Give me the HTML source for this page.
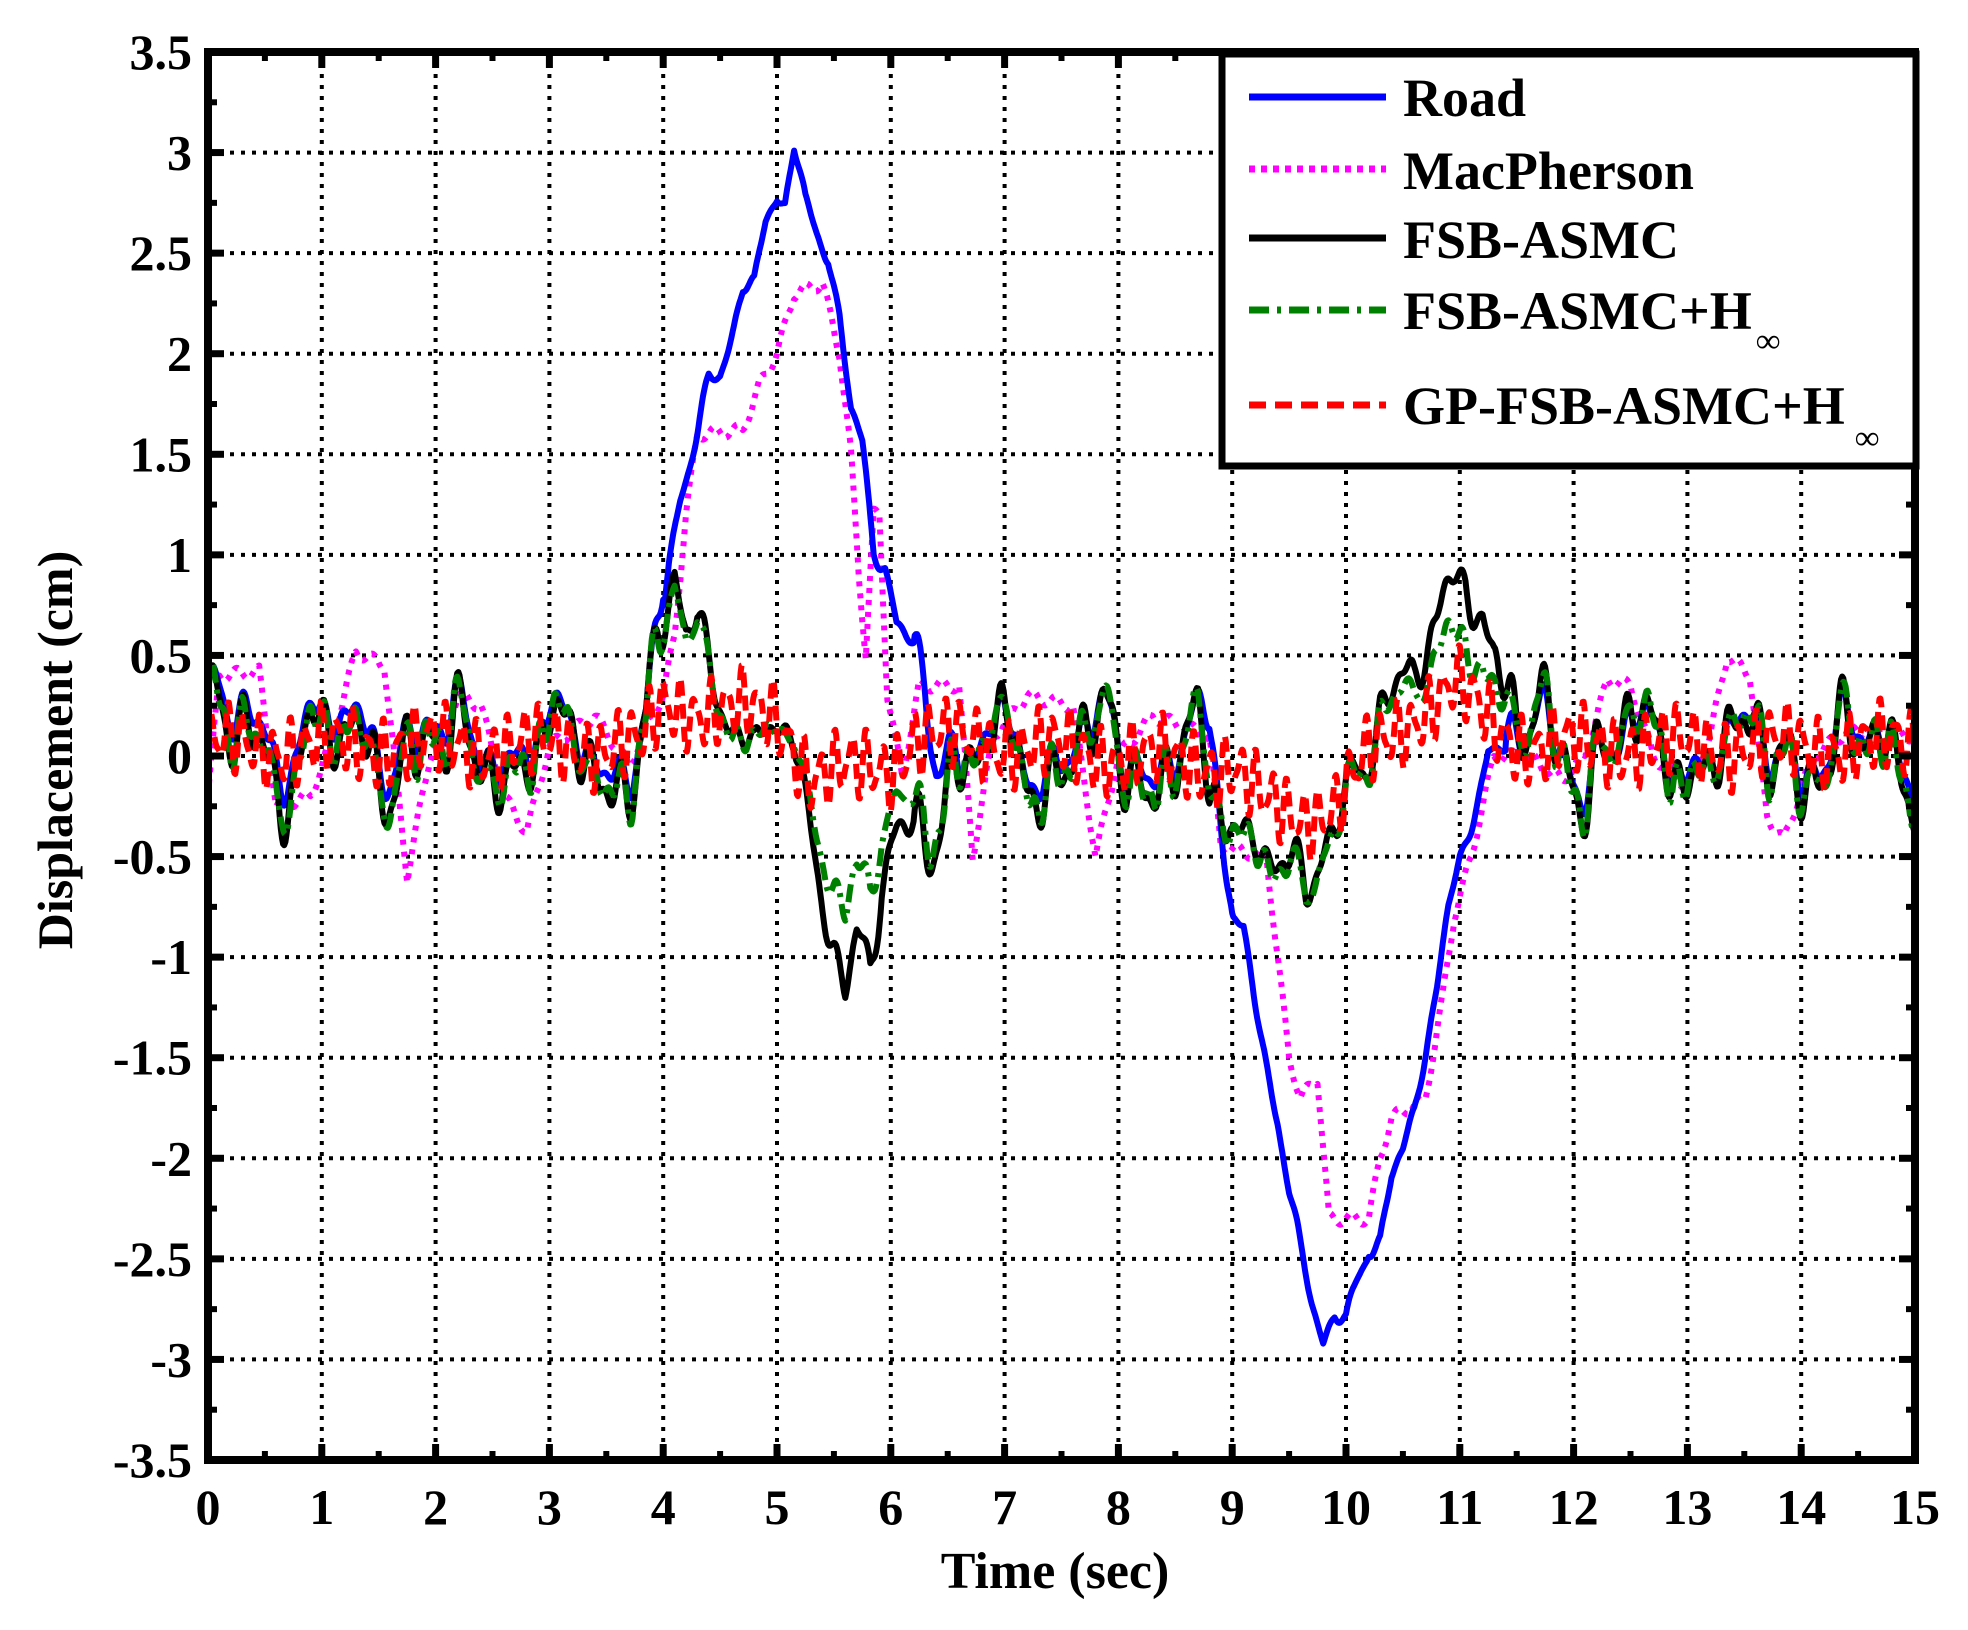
<!DOCTYPE html>
<html><head><meta charset="utf-8">
<style>
html,body{margin:0;padding:0;background:#fff;}
svg{display:block;}
text{font-family:"Liberation Serif",serif;font-weight:bold;fill:#000;}
</style></head>
<body>
<svg id="s" width="1968" height="1630" viewBox="0 0 1968 1630" xmlns="http://www.w3.org/2000/svg">
<g id="grid" stroke="#000" stroke-width="4" stroke-dasharray="4 7" fill="none"></g>
<g id="series" fill="none" stroke-linejoin="round"></g>
<g id="axes"></g>
<g id="legend">
<rect x="1222" y="54" width="694" height="412" fill="#fff" stroke="#000" stroke-width="7"/>
<line x1="1249" y1="97" x2="1386" y2="97" stroke="#0000ff" stroke-width="7"/>
<line x1="1249" y1="169" x2="1386" y2="169" stroke="#ff00ff" stroke-width="7" stroke-dasharray="6 6"/>
<line x1="1249" y1="238" x2="1386" y2="238" stroke="#000" stroke-width="7"/>
<line x1="1249" y1="310" x2="1386" y2="310" stroke="#008000" stroke-width="7" stroke-dasharray="20 8 4 8"/>
<line x1="1249" y1="405" x2="1386" y2="405" stroke="#ff0000" stroke-width="7" stroke-dasharray="17 9"/>
<text x="1403" y="116" font-size="54">Road</text>
<text x="1403" y="189" font-size="54">MacPherson</text>
<text x="1403" y="258" font-size="54">FSB-ASMC</text>
<text x="1403" y="329" font-size="54">FSB-ASMC+H</text>
<text x="1756" y="352" font-size="34">∞</text>
<text x="1403" y="424" font-size="54">GP-FSB-ASMC+H</text>
<text x="1855" y="449" font-size="34">∞</text>
</g>
<text x="1055" y="1588" font-size="52" text-anchor="middle">Time (sec)</text>
<text transform="translate(72,750) rotate(-90)" font-size="50" text-anchor="middle">Displacement (cm)</text>
</svg>
<script>
const X0=208,X1=1915,Y0=52,Y1=1460;
const px=t=>X0+(X1-X0)*t/15, py=v=>Y0+(Y1-Y0)*(3.5-v)/7;
const NS="http://www.w3.org/2000/svg";
function el(p,tag,a){const e=document.createElementNS(NS,tag);for(const k in a)e.setAttribute(k,a[k]);p.appendChild(e);return e;}
const grid=document.getElementById('grid'),axes=document.getElementById('axes'),ser=document.getElementById('series');
for(let i=1;i<15;i++)el(grid,'line',{x1:px(i),y1:Y0,x2:px(i),y2:Y1});
for(let v=-3;v<=3;v+=0.5)el(grid,'line',{x1:X0,y1:py(v),x2:X1,y2:py(v)});
el(axes,'rect',{x:X0,y:Y0,width:X1-X0,height:Y1-Y0,fill:'none',stroke:'#000','stroke-width':8});
for(let i=0;i<=15;i++){
 el(axes,'line',{x1:px(i),y1:Y1,x2:px(i),y2:Y1-16,stroke:'#000','stroke-width':7});
 el(axes,'line',{x1:px(i),y1:Y0,x2:px(i),y2:Y0+16,stroke:'#000','stroke-width':7});
 if(i<15){el(axes,'line',{x1:px(i+.5),y1:Y1,x2:px(i+.5),y2:Y1-9,stroke:'#000','stroke-width':6});
 el(axes,'line',{x1:px(i+.5),y1:Y0,x2:px(i+.5),y2:Y0+9,stroke:'#000','stroke-width':6});}
 const t=el(axes,'text',{x:px(i),y:1524,'font-size':50,'text-anchor':'middle'});t.textContent=i;
}
for(let k=-7;k<=7;k++){const v=k/2;
 el(axes,'line',{x1:X0,y1:py(v),x2:X0+16,y2:py(v),stroke:'#000','stroke-width':7});
 el(axes,'line',{x1:X1,y1:py(v),x2:X1-16,y2:py(v),stroke:'#000','stroke-width':7});
 if(k<7){el(axes,'line',{x1:X0,y1:py(v+.25),x2:X0+9,y2:py(v+.25),stroke:'#000','stroke-width':6});
 el(axes,'line',{x1:X1,y1:py(v+.25),x2:X1-9,y2:py(v+.25),stroke:'#000','stroke-width':6});}
 const t=el(axes,'text',{x:192,y:py(v)+17,'font-size':50,'text-anchor':'end'});t.textContent=String(v);
}
function interp(k,t){if(t<=k[0][0])return k[0][1];for(let i=1;i<k.length;i++)if(t<=k[i][0]){const a=k[i-1],b=k[i];return a[1]+(b[1]-a[1])*(t-a[0])/(b[0]-a[0]);}return k[k.length-1][1];}
const n1=t=>0.17*Math.sin(2*Math.PI*1.05*t+0.3)+0.1*Math.sin(2*Math.PI*2.3*t+1.2)+0.05*Math.sin(2*Math.PI*3.7*t);
const n2=t=>0.1*Math.sin(2*Math.PI*4.2*t)+0.07*Math.sin(2*Math.PI*6.9*t+1)+0.05*Math.sin(2*Math.PI*2.1*t+2)+0.04*Math.sin(2*Math.PI*1.3*t+.5);
function env(t,ranges){for(const r of ranges)if(t>r[0]&&t<r[1])return r[2];return 1;}
function path(f,dt){let d='';for(let t=0;t<=15.0001;t+=dt){d+=(d?'L':'M')+px(t).toFixed(1)+' '+py(f(t)).toFixed(1);}return d;}
const road=[[0,0.1],[3.85,0],[3.95,0.45],[4.05,0.9],[4.15,1.25],[4.3,1.6],[4.4,1.9],[4.5,1.95],[4.62,2.15],[4.7,2.3],[4.8,2.3],[4.9,2.6],[5.0,2.75],[5.07,2.72],[5.15,3.0],[5.25,2.75],[5.35,2.63],[5.45,2.52],[5.55,2.2],[5.65,1.7],[5.75,1.5],[5.85,1.0],[5.95,0.9],[6.05,0.6],[6.2,0.55],[6.3,0.45],[6.4,0.12],[6.6,-0.1],[6.9,0],[8.8,0],[8.9,-0.4],[9.0,-0.8],[9.1,-0.85],[9.2,-1.2],[9.3,-1.5],[9.4,-1.8],[9.5,-2.2],[9.6,-2.5],[9.7,-2.75],[9.8,-2.95],[9.9,-2.8],[10.0,-2.82],[10.1,-2.6],[10.2,-2.4],[10.3,-2.38],[10.4,-2.1],[10.5,-2.0],[10.6,-1.8],[10.7,-1.5],[10.8,-1.2],[10.9,-0.8],[11.0,-0.5],[11.1,-0.3],[11.25,0.05],[11.4,0],[15,0]];
const mac=[[0,-0.2],[0.1,0.4],[0.45,0.42],[0.6,-0.25],[0.9,-0.2],[1.1,0.1],[1.3,0.52],[1.55,0.45],[1.75,-0.6],[1.95,0.0],[2.2,0.3],[2.4,0.25],[2.6,-0.2],[2.8,-0.38],[3.0,0.05],[3.4,0.2],[3.7,-0.05],[3.9,0.2],[4.0,0.3],[4.1,0.6],[4.2,1.2],[4.3,1.6],[4.7,1.62],[4.85,1.85],[5.0,2.0],[5.15,2.3],[5.4,2.35],[5.55,2.0],[5.65,1.5],[5.72,0.9],[5.78,0.5],[5.85,1.2],[5.9,1.2],[5.97,0.3],[6.1,-0.1],[6.25,0.35],[6.6,0.35],[6.72,-0.5],[6.9,0.1],[7.2,0.3],[7.6,0.25],[7.8,-0.5],[8.0,0.0],[8.3,0.2],[8.8,0.1],[8.9,-0.45],[9.3,-0.5],[9.4,-1.0],[9.5,-1.5],[9.6,-1.7],[9.75,-1.6],[9.85,-2.3],[10.2,-2.3],[10.3,-2.0],[10.4,-1.8],[10.7,-1.7],[10.85,-1.2],[10.95,-0.8],[11.1,-0.5],[11.3,0.0],[11.6,0.0],[11.9,-0.12],[12.1,0.0],[12.3,0.38],[12.5,0.35],[12.7,0],[13.0,-0.15],[13.2,0.1],[13.35,0.5],[13.55,0.4],[13.7,-0.3],[13.85,-0.42],[14.1,0.0],[14.4,0.12],[15,0.1]];
const blk=[[0,0.05],[3.85,0],[3.95,0.4],[4.1,0.8],[4.2,0.65],[4.3,0.72],[4.45,0.45],[4.6,0.2],[4.8,-0.05],[5.0,0.15],[5.15,0.05],[5.3,-0.35],[5.45,-0.75],[5.6,-1.15],[5.7,-0.95],[5.82,-1.1],[5.92,-0.65],[6.05,-0.45],[6.25,-0.3],[6.5,-0.1],[6.9,0],[8.7,0],[8.8,-0.3],[9.2,-0.35],[9.45,-0.5],[9.65,-0.75],[9.85,-0.45],[10.1,-0.05],[10.3,0.3],[10.6,0.35],[10.8,0.6],[10.95,0.85],[11.05,0.95],[11.2,0.82],[11.35,0.4],[11.5,0.05],[15,0]];
const grn=blk.map(p=>[p[0],p[1]*((p[0]>5&&p[0]<6.3)?0.65:(p[0]>10.5&&p[0]<11.5)?0.7:(p[0]>8.6&&p[0]<10.2)?1.05:0.95)]);
const red=[[0,0.05],[3.8,0.05],[4.0,0.25],[5.0,0.2],[5.3,-0.1],[6.0,-0.05],[6.2,0.1],[9.0,-0.05],[9.3,-0.25],[9.6,-0.3],[9.9,-0.25],[10.2,0.0],[10.6,0.2],[10.95,0.35],[11.3,0.15],[11.6,0.05],[15,0.05]];
const ev=[[4.0,6.2,0.3],[9.0,11.4,0.3]];
const evb=[[4.0,6.2,0.5],[9.0,11.3,0.6]];
const fr=t=>interp(red,t)+0.13*Math.sin(2*Math.PI*7.3*t)+0.06*Math.sin(2*Math.PI*11.1*t+1)+0.05*Math.sin(2*Math.PI*1.1*t+0.4);
const fm=t=>interp(mac,t)+0.03*Math.sin(2*Math.PI*5*t);
const fk=t=>interp(blk,t)+env(t,evb)*(n1(t)+n2(t));
const fg=t=>interp(grn,t)+env(t,evb)*(1.05*n1(t)+0.8*n2(t)+0.04*Math.sin(2*Math.PI*8*t));
const fb=t=>interp(road,t)+env(t,ev)*(0.9*n1(t)+0.6*n2(t)+0.04);
el(ser,'path',{d:path(fm,0.01),stroke:'#ff00ff','stroke-width':6,'stroke-dasharray':'5 7'});
el(ser,'path',{d:path(fb,0.01),stroke:'#0000ff','stroke-width':6});
el(ser,'path',{d:path(fk,0.01),stroke:'#000','stroke-width':6});
el(ser,'path',{d:path(fg,0.01),stroke:'#008000','stroke-width':6,'stroke-dasharray':'18 7 4 7'});
el(ser,'path',{d:path(fr,0.008),stroke:'#ff0000','stroke-width':6,'stroke-dasharray':'15 8'});
</script>
</body></html>
